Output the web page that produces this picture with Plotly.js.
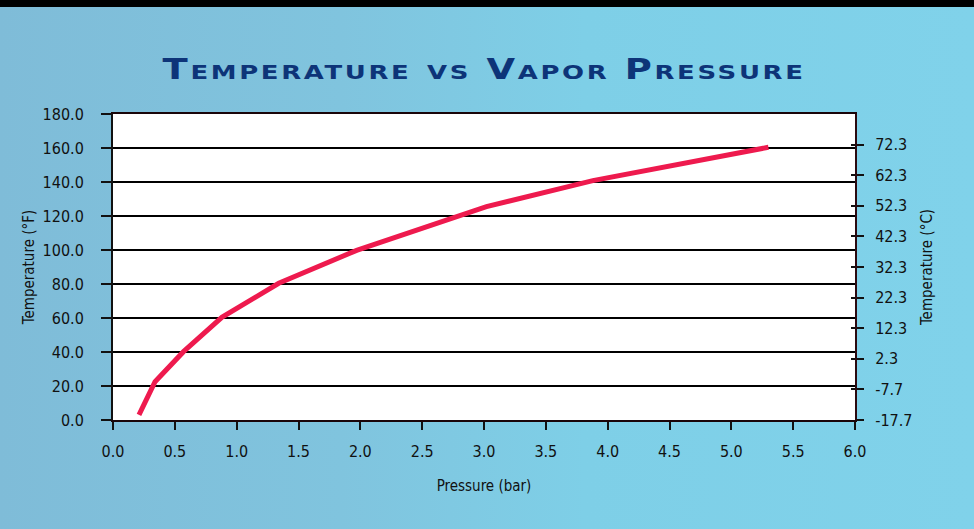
<!DOCTYPE html>
<html>
<head>
<meta charset="utf-8">
<script src="https://cdn.plot.ly/plotly-3.0.1.min.js"></script>
<style>
  html, body { margin: 0; padding: 0; }
  body {
    width: 974px; height: 529px; overflow: hidden;
    background: linear-gradient(90deg, #7fbcd8 0%, #80c4de 35%, #7ecfe7 60%, #80d2ea 100%);
    position: relative;
  }
  #topband { position: absolute; left: 0; top: 0; width: 974px; height: 7px; background: #000; z-index: 5; }
  #chart { position: absolute; left: 0; top: 0; width: 974px; height: 529px; }
  .gtitle { letter-spacing: 2px; transform-box: fill-box; transform-origin: center; transform: scaleX(1.32); }
</style>
</head>
<body>
<div id="topband"></div>
<div id="chart"></div>
<script>
// Data
const pressureBar = [0.21, 0.34, 0.57, 0.88, 1.34, 1.97, 3.02, 3.88, 5.30];
const temperatureF = [3.0, 22.5, 40.2, 60.4, 80.4, 99.8, 125.5, 140.8, 160.4];
const xTicks = [0.0, 0.5, 1.0, 1.5, 2.0, 2.5, 3.0, 3.5, 4.0, 4.5, 5.0, 5.5, 6.0];
const fTicks = [0, 20, 40, 60, 80, 100, 120, 140, 160, 180];
const cTicks = [-17.7, -7.7, 2.3, 12.3, 22.3, 32.3, 42.3, 52.3, 62.3, 72.3];
const cTickText = ['-17.7', '-7.7', '2.3', '12.3', '22.3', '32.3', '42.3', '52.3', '62.3', '72.3'];
const cRange = [-17.7, 82.3];

const narrow = 'DejaVu Sans Condensed, sans-serif';
const tickFont = { family: narrow, size: 16, color: '#111' };
const titleFont = { family: narrow, size: 15, color: '#111' };

const traces = [
  {
    x: pressureBar, y: temperatureF, type: 'scatter', mode: 'lines',
    line: { color: '#ee1a4e', width: 5 },
    xaxis: 'x', yaxis: 'y', hoverinfo: 'skip'
  },
  { x: [0], y: [cRange[0]], xaxis: 'x', yaxis: 'y2', mode: 'markers', marker: { opacity: 0 }, hoverinfo: 'skip', showlegend: false },
  { x: [0], y: [cRange[0]], xaxis: 'x', yaxis: 'y3', mode: 'markers', marker: { opacity: 0 }, hoverinfo: 'skip', showlegend: false }
];

const layout = {
  width: 974, height: 529,
  margin: { l: 113, r: 119, t: 114, b: 109 },
  paper_bgcolor: 'rgba(0,0,0,0)',
  plot_bgcolor: '#ffffff',
  showlegend: false,
  title: {
    text: 'Temperature vs Vapor Pressure',
    font: { family: 'DejaVu Sans', size: 28, color: '#0d3478', weight: 700, variant: 'small-caps' },
    x: 0.497, xanchor: 'center', y: 0.87, yanchor: 'middle'
  },
  xaxis: {
    range: [0, 6], tickvals: xTicks, tickformat: '.1f',
    showgrid: false, zeroline: false,
    showline: true, linecolor: '#1a0509', linewidth: 2, mirror: true,
    ticks: 'outside', ticklen: 8, tickwidth: 2, tickcolor: '#111',
    ticklabelstandoff: 8,
    tickfont: tickFont,
    title: { text: 'Pressure (bar)', font: titleFont, standoff: 20 }
  },
  yaxis: {
    range: [0, 180], tickvals: fTicks, tickformat: '.1f',
    showgrid: true, gridcolor: '#000', gridwidth: 2, zeroline: false,
    showline: true, linecolor: '#111', linewidth: 2,
    ticks: 'outside', ticklen: 10, tickwidth: 2, tickcolor: '#111',
    ticklabelstandoff: 14,
    tickfont: tickFont,
    title: { text: 'Temperature (°F)', font: titleFont, standoff: 4 }
  },
  yaxis2: {
    overlaying: 'y', side: 'right', range: cRange, tickvals: cTicks, ticktext: cTickText,
    showgrid: false, zeroline: false,
    showline: true, linecolor: '#2a0a10', linewidth: 2,
    ticks: 'outside', ticklen: 7, tickwidth: 2, tickcolor: '#111',
    ticklabelstandoff: 8,
    tickfont: tickFont,
    title: { text: 'Temperature (°C)', font: titleFont, standoff: 10 }
  },
  yaxis3: {
    overlaying: 'y', side: 'right', range: cRange, tickvals: cTicks,
    showgrid: false, zeroline: false, showline: false,
    ticks: 'inside', ticklen: 4, tickwidth: 2, tickcolor: '#111',
    showticklabels: false
  }
};

Plotly.newPlot('chart', traces, layout, { displayModeBar: false, staticPlot: true });
</script>
</body>
</html>
